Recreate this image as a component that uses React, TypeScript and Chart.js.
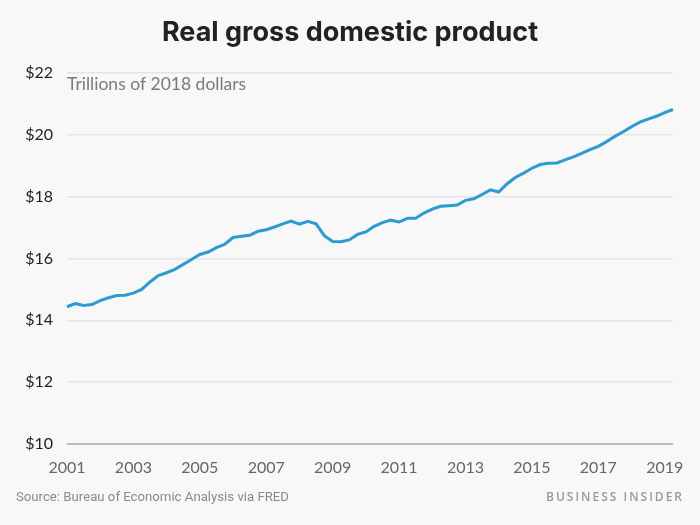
import React, { useEffect, useRef } from "react";
import { Chart, registerables } from "chart.js";

Chart.register(...registerables);

const years: number[] = Array.from({ length: 19 }, (_, k) => 2001 + k);
const quarters: string[] = ["Q1", "Q2", "Q3", "Q4"];
const categories: string[] = [];
years.forEach((y) => quarters.forEach((q) => categories.push(`${y} ${q}`)));
const labels = categories.slice(0, 74);

const gdpTrillions: number[] = [
  14.44, 14.54, 14.48, 14.51, 14.64, 14.73, 14.8, 14.81,
  14.88, 15.0, 15.24, 15.45, 15.54, 15.65, 15.81, 15.97,
  16.13, 16.21, 16.35, 16.46, 16.68, 16.72, 16.75, 16.88,
  16.93, 17.02, 17.12, 17.21, 17.11, 17.2, 17.12, 16.74,
  16.55, 16.54, 16.6, 16.78, 16.86, 17.04, 17.16, 17.24,
  17.18, 17.3, 17.3, 17.47, 17.6, 17.69, 17.71, 17.73,
  17.88, 17.93, 18.07, 18.22, 18.15, 18.41, 18.62, 18.76,
  18.92, 19.04, 19.08, 19.09, 19.19, 19.29, 19.4, 19.52,
  19.63, 19.78, 19.95, 20.1, 20.26, 20.41, 20.51, 20.6,
  20.72, 20.82,
];

const yTicks: number[] = [10, 12, 14, 16, 18, 20, 22];

const titleText = "Real gross domestic product";
const subtitleText = "Trillions of 2018 dollars";
const sourceText = "Source: Bureau of Economic Analysis via FRED";
const brandText = "BUSINESS INSIDER";

const textPlugin = {
  id: "texts",
  beforeDraw(chart: any) {
    const ctx = chart.ctx;
    ctx.save();
    ctx.fillStyle = "#f8f8f8";
    ctx.fillRect(0, 0, chart.width, chart.height);
    ctx.restore();
  },
  afterDraw(chart: any) {
    const ctx = chart.ctx;
    const area = chart.chartArea;
    ctx.save();
    ctx.fillStyle = "#222222";
    ctx.font = "700 27px Inter, 'Open Sans', sans-serif";
    ctx.textAlign = "center";
    ctx.textBaseline = "middle";
    ctx.fillText(titleText, 350, 33);

    ctx.fillStyle = "#7a7a7a";
    ctx.font = "400 17.5px Lato, 'Open Sans', sans-serif";
    ctx.textAlign = "left";
    ctx.fillText(subtitleText, area.left, 84);

    ctx.fillStyle = "#8a8a8a";
    ctx.font = "400 13.2px 'Liberation Sans Narrow', 'Roboto', sans-serif";
    ctx.fillText(sourceText, 16, 498);

    ctx.fillStyle = "#9a9a9a";
    ctx.font = "600 12px 'Open Sans', sans-serif";
    ctx.textAlign = "right";
    (ctx as any).letterSpacing = "2px";
    ctx.fillText(brandText, 684, 498);
    ctx.restore();
  },
};

export default function App() {
  const ref = useRef<HTMLCanvasElement | null>(null);
  useEffect(() => {
    if (!ref.current) return;
    const chart = new Chart(ref.current, {
      type: "line",
      data: {
        labels,
        datasets: [
          {
            data: gdpTrillions,
            borderColor: "#2b9bd1",
            borderWidth: 3,
            pointRadius: 0,
            tension: 0,
            fill: false,
          },
        ],
      },
      options: {
        animation: false,
        responsive: false,
        maintainAspectRatio: false,
        layout: { padding: { top: 73, bottom: 41, right: 27, left: 0 } },
        plugins: {
          legend: { display: false },
          tooltip: { enabled: false },
          title: { display: false },
        },
        scales: {
          x: {
            type: "category",
            offset: false,
            grid: { display: false, drawTicks: false },
            border: { display: false },
            afterFit: (s: any) => {
              s.height = 40;
            },
            ticks: {
              autoSkip: false,
              maxRotation: 0,
              minRotation: 0,
              padding: 14,
              color: "#666666",
              font: { family: "Lato, 'Open Sans', sans-serif", size: 16 },
              callback: (_v: any, i: number) =>
                i % 8 === 0 ? labels[i].slice(0, 4) : null,
            },
          },
          y: {
            min: 10,
            max: 22,
            afterFit: (s: any) => {
              s.width = 67;
            },
            afterBuildTicks: (s: any) => {
              s.ticks = yTicks.map((v) => ({ value: v }));
            },
            border: { display: false },
            grid: {
              drawTicks: false,
              color: (c: any) => (c.tick && c.tick.value === 10 ? "#bdbdbd" : "#e4e4e4"),
              lineWidth: (c: any) => (c.tick && c.tick.value === 10 ? 2 : 1.5),
            },
            ticks: {
              padding: 14,
              color: "#222222",
              font: { family: "Lato, 'Open Sans', sans-serif", size: 16 },
              callback: (v: any) => "$" + v,
            },
          },
        },
      },
      plugins: [textPlugin],
    });
    return () => chart.destroy();
  }, []);
  return (
    <div style={{ position: "fixed", left: 0, top: 0, width: 700, height: 525 }}>
      <canvas ref={ref} width={700} height={525} style={{ width: 700, height: 525 }} />
    </div>
  );
}
